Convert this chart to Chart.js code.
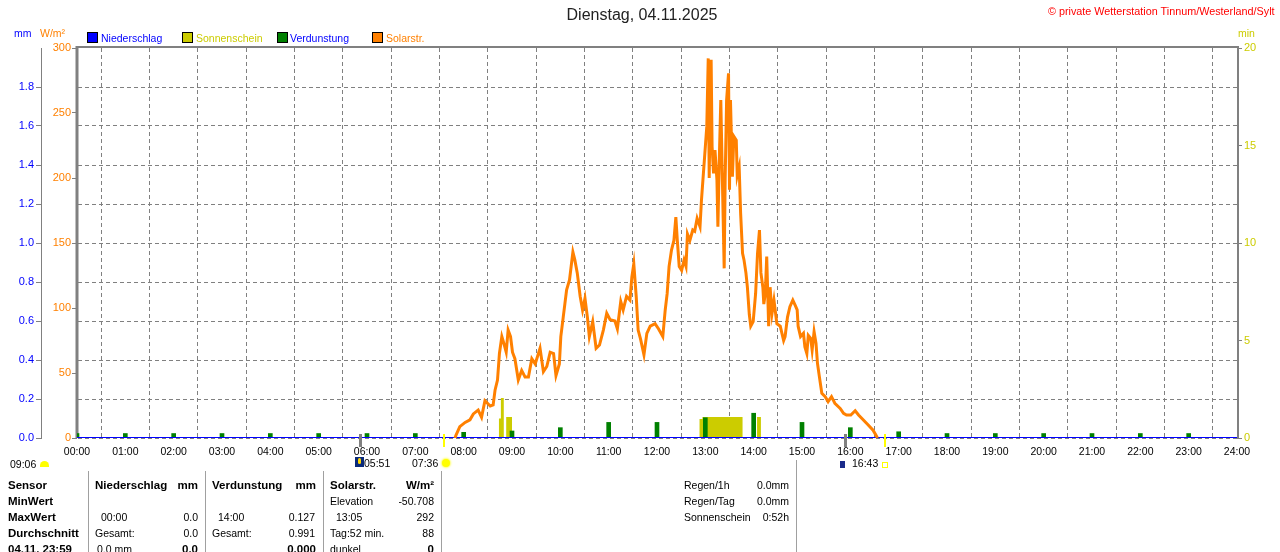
<!DOCTYPE html>
<html><head><meta charset="utf-8">
<script src="https://cdn.jsdelivr.net/npm/chart.js@4.4.1/dist/chart.umd.min.js"></script>
<style>
html,body{margin:0;padding:0;background:#fff;width:1280px;height:552px;overflow:hidden;font-family:"Liberation Sans",Arial,sans-serif;}
#wrap{position:absolute;left:0;top:0;width:1280px;height:470px;}
.t{position:absolute;font-size:10.5px;line-height:16px;white-space:nowrap;color:#000;}
.b{font-weight:bold;font-size:11.5px;}
.sep{position:absolute;width:1px;background:#a0a0a0;}
.sq{position:absolute;width:9px;height:9px;border:1px solid #000;}
</style></head><body>
<div id="wrap"><canvas id="c" width="1280" height="470"></canvas></div>

<div class="t" style="left:0;width:1284px;text-align:center;top:5px;font-size:16px;line-height:20px;color:#222;">Dienstag, 04.11.2025</div>
<div class="t" style="left:1048px;top:3px;font-size:10.8px;color:#FF0000;">© private Wetterstation Tinnum/Westerland/Sylt</div>
<div class="t" style="left:14px;top:25px;color:#0000FF;">mm</div>
<div class="t" style="left:40px;top:25px;color:#FF8000;">W/m²</div>
<div class="t" style="left:1238px;top:25px;color:#CCCC00;">min</div>

<div class="sq" style="left:87px;top:32px;background:#0000FF;"></div>
<div class="t" style="left:101px;top:30px;color:#0000FF;">Niederschlag</div>
<div class="sq" style="left:182px;top:32px;background:#CCCC00;"></div>
<div class="t" style="left:196px;top:30px;color:#CCCC00;">Sonnenschein</div>
<div class="sq" style="left:277px;top:32px;background:#008000;"></div>
<div class="t" style="left:290px;top:30px;color:#0000FF;">Verdunstung</div>
<div class="sq" style="left:372px;top:32px;background:#FF8000;"></div>
<div class="t" style="left:386px;top:30px;color:#FF8000;">Solarstr.</div>

<!-- below axis event labels -->
<div class="t" style="left:10px;top:456px;">09:06</div>
<div style="position:absolute;left:40px;top:461px;width:9px;height:6px;background:#FFFF00;border-radius:5px 5px 0 0;"></div>
<div style="position:absolute;left:355px;top:457px;width:9px;height:10px;background:#0A2A7A;"></div>
<div style="position:absolute;left:358px;top:458px;width:3px;height:6px;background:#FFD800;border-radius:2px;"></div>
<div class="t" style="left:364px;top:455px;">05:51</div>
<div class="t" style="left:412px;top:455px;">07:36</div>
<div style="position:absolute;left:442px;top:459px;width:8px;height:8px;background:#FFFF00;border-radius:50%;box-shadow:0 0 2px 1px #FFFF66;"></div>
<div style="position:absolute;left:840px;top:461px;width:5px;height:7px;background:#1A2A8A;"></div>
<div class="t" style="left:852px;top:455px;">16:43</div>
<div style="position:absolute;left:882px;top:462px;width:4px;height:4px;border:1px solid #FFFF00;"></div>

<!-- table -->
<div class="sep" style="left:88px;top:471px;height:81px;"></div>
<div class="sep" style="left:205px;top:471px;height:81px;"></div>
<div class="sep" style="left:323px;top:471px;height:81px;"></div>
<div class="sep" style="left:441px;top:471px;height:81px;"></div>
<div class="sep" style="left:796px;top:460px;height:92px;"></div>

<div class="t b" style="left:8px;top:477px;">Sensor</div>
<div class="t b" style="left:8px;top:493px;">MinWert</div>
<div class="t b" style="left:8px;top:509px;">MaxWert</div>
<div class="t b" style="left:8px;top:525px;">Durchschnitt</div>
<div class="t b" style="left:8px;top:541px;">04.11. 23:59</div>

<div class="t b" style="left:95px;top:477px;">Niederschlag</div>
<div class="t b" style="right:1082px;top:477px;">mm</div>
<div class="t" style="left:101px;top:509px;">00:00</div>
<div class="t" style="right:1082px;top:509px;">0.0</div>
<div class="t" style="left:95px;top:525px;">Gesamt:</div>
<div class="t" style="right:1082px;top:525px;">0.0</div>
<div class="t" style="left:97px;top:541px;">0.0 mm</div>
<div class="t b" style="right:1082px;top:541px;">0.0</div>

<div class="t b" style="left:212px;top:477px;">Verdunstung</div>
<div class="t b" style="right:964px;top:477px;">mm</div>
<div class="t" style="left:218px;top:509px;">14:00</div>
<div class="t" style="right:965px;top:509px;">0.127</div>
<div class="t" style="left:212px;top:525px;">Gesamt:</div>
<div class="t" style="right:965px;top:525px;">0.991</div>
<div class="t b" style="right:964px;top:541px;">0.000</div>

<div class="t b" style="left:330px;top:477px;">Solarstr.</div>
<div class="t b" style="right:846px;top:477px;">W/m²</div>
<div class="t" style="left:330px;top:493px;">Elevation</div>
<div class="t" style="right:846px;top:493px;">-50.708</div>
<div class="t" style="left:336px;top:509px;">13:05</div>
<div class="t" style="right:846px;top:509px;">292</div>
<div class="t" style="left:330px;top:525px;">Tag:52 min.</div>
<div class="t" style="right:846px;top:525px;">88</div>
<div class="t" style="left:330px;top:541px;">dunkel</div>
<div class="t b" style="right:846px;top:541px;">0</div>

<div class="t" style="left:684px;top:477px;">Regen/1h</div>
<div class="t" style="right:491px;top:477px;">0.0mm</div>
<div class="t" style="left:684px;top:493px;">Regen/Tag</div>
<div class="t" style="right:491px;top:493px;">0.0mm</div>
<div class="t" style="left:684px;top:509px;">Sonnenschein</div>
<div class="t" style="right:491px;top:509px;">0:52h</div>

<script>
// ---- data ----
const solarHours = [7.82,7.84,7.92,8.03,8.13,8.20,8.30,8.37,8.44,8.55,8.61,8.65,8.70,8.74,8.79,8.83,8.88,8.92,8.97,9.01,
  9.06,9.13,9.20,9.27,9.34,9.41,9.48,9.58,9.65,9.72,9.79,9.86,9.91,9.98,10.01,10.06,10.13,10.19,10.26,10.30,
  10.35,10.41,10.46,10.51,10.56,10.60,10.67,10.74,10.81,10.89,10.96,11.03,11.13,11.18,11.25,11.30,11.37,11.44,11.48,11.52,
  11.57,11.61,11.66,11.73,11.79,11.86,11.96,12.03,12.12,12.17,12.21,12.25,12.30,12.35,12.39,12.42,12.46,12.51,12.56,12.60,
  12.63,12.68,12.74,12.78,12.83,12.89,12.92,12.96,12.99,13.03,13.06,13.08,13.10,13.12,13.14,13.17,13.20,13.24,13.26,13.29,
  13.32,13.35,13.39,13.41,13.44,13.48,13.50,13.52,13.56,13.59,13.64,13.66,13.70,13.73,13.77,13.80,13.84,13.87,13.91,13.94,
  13.99,14.04,14.08,14.12,14.15,14.19,14.21,14.24,14.27,14.31,14.34,14.38,14.42,14.48,14.55,14.62,14.65,14.70,14.75,14.81,
  14.86,14.90,14.92,14.97,15.03,15.06,15.10,15.13,15.18,15.21,15.25,15.29,15.32,15.36,15.41,15.48,15.54,15.61,15.68,15.79,
  15.86,15.92,16.01,16.10,16.17,16.27,16.37,16.47,16.54,16.56];
const solarWm2 = [0,2,8.7,12,14,18.5,21.5,16,28.7,24.6,25.4,37,44.6,65,78,73,66,83,78,66,
  61,44.6,52,47,47,61,57,69,51,55,66,65,48,57,78,93,114,121.5,143,137,
  127,109,98.5,107.5,93,78,89.5,69,71.5,83,96,91,90,84,105,98.5,109,106,124,134,
  109,83,76,64,80.5,86,88,84,78,98.5,111,132,144.6,152,170,152,132,129,137,132,
  157,152,160,159,169,162.5,183,203.6,219,239.5,292,200,255,291,224,203.6,221.5,198.5,162.5,216,
  260,203.6,130.5,198.5,260,280.5,191,260,201,232,229,202,208.6,173,142,137,127,116,95,86,
  89.5,111,142,160,127,116,103,111,139.5,86,116,96,106,88,86,75,78,93,101,106,
  102,98.5,86,78,80.5,70,65,79,76.7,67.7,81.8,72.8,57.5,47,34.4,31.8,28,31.8,26.7,22.8,
  19,17.7,17.7,21,17.7,13.8,10,6,1.5,0];
const verdHours = [0,1,2,3,4,5,6,7,8,9,10,11,12,13,14,15,16,17,18,19,20,21,22,23];
const verdMm = [0.023,0.023,0.023,0.023,0.023,0.023,0.023,0.023,0.029,0.036,0.053,0.08,0.08,0.104,0.127,0.08,0.053,0.032,0.023,0.023,0.023,0.023,0.023,0.023];
const rainHours = [0,24];
const rainMm = [0,0];
const sunHours = [0,8.73,8.77,8.83,8.88,9.0,12.88,12.94,13.77,14.07,14.15,24];
const sunMinutes = [0,1,2.05,0,1.08,0,0.97,1.08,0,1.08,0,0];
const twilightHours = [5.85,15.88];
const sunEventHours = [7.6,16.72];
const xTickHours = 24;

const pts = (xs, ys) => xs.map((x,i)=>({x:x,y:ys[i]}));

const framePlugin = {
  id:'frame',
  beforeDatasetsDraw(chart){
    const {ctx, chartArea:a} = chart;
    ctx.save();
    ctx.strokeStyle = '#808080';
    ctx.lineWidth = 2;
    ctx.beginPath();
    ctx.moveTo(a.left-1, a.top-1); ctx.lineTo(a.right+1, a.top-1); ctx.lineTo(a.right+1, a.bottom);
    ctx.stroke();
    ctx.lineWidth = 3;
    ctx.beginPath(); ctx.moveTo(a.left, a.top-2); ctx.lineTo(a.left, a.bottom); ctx.stroke();
    ctx.restore();
  },
  afterDraw(chart){
    const {ctx, chartArea:a} = chart;
    const xs = chart.scales.x;
    ctx.save();
    ctx.fillStyle = '#808080';
    twilightHours.forEach(h=>{ const px = xs.getPixelForValue(h); ctx.fillRect(Math.round(px)-1, a.bottom-4, 3, 13); });
    ctx.fillStyle = '#FFFF00';
    sunEventHours.forEach(h=>{ const px = xs.getPixelForValue(h); ctx.fillRect(Math.round(px)-1, a.bottom-4, 2, 13); });
    ctx.restore();
  }
};

Chart.defaults.font.family = '"Liberation Sans", Arial, sans-serif';
Chart.defaults.font.size = 11;

new Chart(document.getElementById('c'), {
  type:'line',
  data:{ datasets:[
    {type:'line', label:'Solarstr.', data:pts(solarHours, solarWm2), yAxisID:'yW', borderColor:'#FF8000', borderWidth:3, pointRadius:0, tension:0, order:0},
    {type:'line', label:'Niederschlag', data:pts(rainHours, rainMm), yAxisID:'yMM', borderColor:'#0000FF', borderWidth:2, pointRadius:0, order:1},
    {type:'bar', label:'Verdunstung', data:pts(verdHours, verdMm), yAxisID:'yMM', backgroundColor:'#008000', barThickness:4, grouped:false, order:2},
    {type:'line', label:'Sonnenschein', data:pts(sunHours, sunMinutes), yAxisID:'yMin', stepped:true, fill:'origin', backgroundColor:'#CCCC00', borderColor:'#CCCC00', borderWidth:0, pointRadius:0, order:3}
  ]},
  options:{
    responsive:false, animation:false,
    layout:{padding:{top:48, bottom:8, left:0, right:0}},
    plugins:{legend:{display:false}, tooltip:{enabled:false}},
    scales:{
      x:{type:'linear', min:0, max:xTickHours, offset:false,
         afterFit:s=>{s.height=24;},
         ticks:{stepSize:1, autoSkip:false, maxRotation:0, padding:8, color:'#000', font:{size:10.5},
                callback:v=>String(v).padStart(2,'0')+':00'},
         grid:{color:'#808080', lineWidth:1, drawTicks:false},
         border:{display:false, dash:[4,3]}},
      yMM:{type:'linear', position:'left', weight:1, min:0, max:2,
         afterFit:s=>{s.width=41;},
         ticks:{stepSize:0.2, color:'#0000FF', padding:2, font:{size:11},
                callback:v=> v>1.99 ? null : v.toFixed(1)},
         grid:{color:'#808080', lineWidth:1, drawOnChartArea:true, drawTicks:true, tickLength:5, tickColor:'#808080'},
         border:{display:true, color:'#808080', width:1, dash:[4,3]}},
      yW:{type:'linear', position:'left', weight:0, min:0, max:300,
         afterFit:s=>{s.width=36;},
         ticks:{stepSize:50, color:'#FF8000', padding:1, font:{size:11}},
         grid:{drawOnChartArea:false, drawTicks:true, tickLength:5, tickColor:'#808080'},
         border:{display:false}},
      yMin:{type:'linear', position:'right', min:0, max:20,
         afterFit:s=>{s.width=43;},
         ticks:{stepSize:5, color:'#CCCC00', padding:2, font:{size:11}},
         grid:{drawOnChartArea:false, drawTicks:true, tickLength:5, tickColor:'#808080'},
         border:{display:false}}
    }
  },
  plugins:[framePlugin]
});
</script>
</body></html>
